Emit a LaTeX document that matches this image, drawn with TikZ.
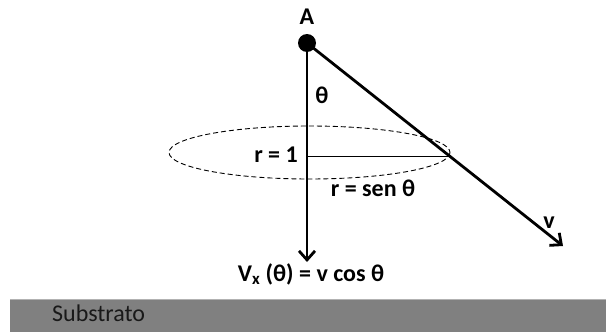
\documentclass[tikz,border=0pt]{standalone}
\usepackage{fontspec}
\setmainfont{Carlito}
\usetikzlibrary{arrows.meta}
\tikzset{
  lbl/.style={font=\fontsize{24}{28}\selectfont\bfseries, inner sep=0pt},
  thickline/.style={line width=2.8pt},
  tip/.style={-{Straight Barb[length=9pt,width=16pt,line width=2.8pt]}}
}
\begin{document}
\begin{tikzpicture}[x=1pt,y=-1pt]
\useasboundingbox (0,0) rectangle (606,332);
% substrate bar
\fill[black!50] (10,299) rectangle (606,332);
\draw[black!30, line width=0.8pt] (10,299) -- (606,299);
\node[font=\fontsize{24}{28}\selectfont, anchor=west, inner sep=0pt, text=black!90] (sub) at (52,313) {Substrato};
% ellipse
\draw[dash pattern=on 5pt off 3pt, line width=0.9pt] (309.5,152.5) ellipse [x radius=140.5, y radius=26.5];
% points
\coordinate (A) at (307,43);
\coordinate (B) at (307,262);
\coordinate (C) at (563,246);
\coordinate (H0) at (307,156);
\coordinate (H1) at (449,156);
\draw[line width=1pt] (H0) -- (H1);
\draw[thickline, tip] (A) -- (B);
\draw[thickline, tip] (A) -- (C);
\fill (A) circle [radius=9];
% labels
\node[lbl] (la) at (307,17) {A};
\node[lbl] (th) at (322,95) {θ};
\node[lbl, anchor=east] (r1) at (298,155) {r = 1};
\node[lbl] (rs) at (373,188) {r = sen θ};
\node[lbl] (v) at (549,223) {v};
\node[lbl] (vx) at (311,274) {V\textsubscript{x} (θ) = v cos θ};
\end{tikzpicture}
\end{document}
